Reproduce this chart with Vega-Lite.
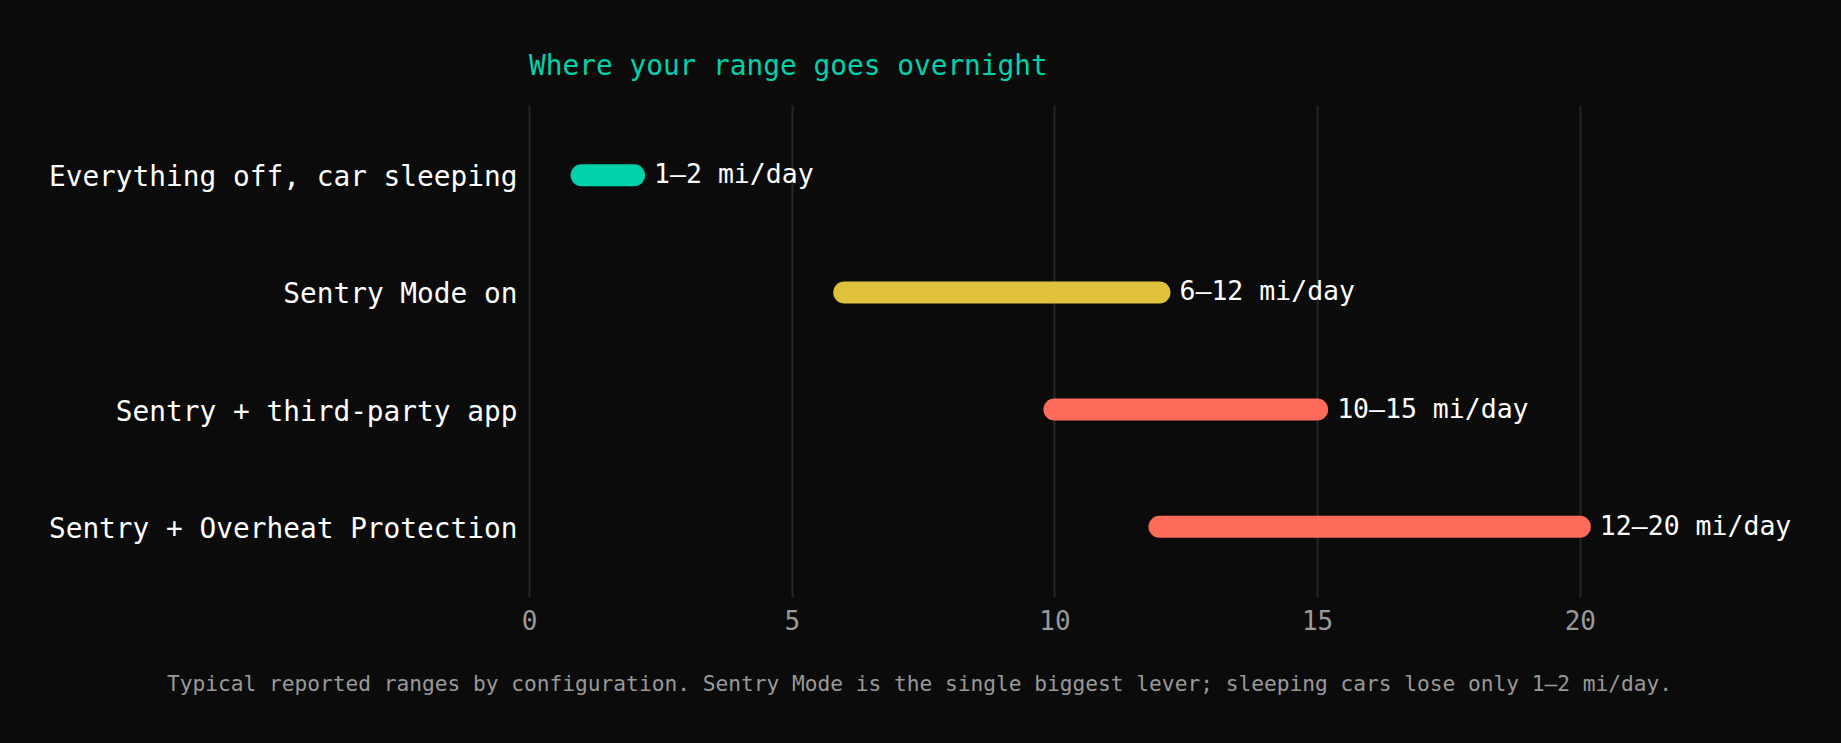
{
  "$schema": "https://vega.github.io/schema/vega-lite/v6.json",
  "autosize": {"type": "none"},
  "padding": {"left": 529, "top": 105, "right": 51, "bottom": 146},
  "width": 1261,
  "height": 492,
  "background": "#0b0b0b",
  "title": {
    "text": "Where your range goes overnight",
    "anchor": "start",
    "frame": "group",
    "font": "DejaVu Sans Mono",
    "fontSize": 27.8,
    "fontWeight": "normal",
    "color": "#00d1ab",
    "baseline": "alphabetic",
    "offset": 2.5
  },
  "config": {
    "view": {"stroke": null},
    "font": "DejaVu Sans Mono"
  },
  "data": {
    "values": [
      {"config": "Everything off, car sleeping", "lo": 1, "hi": 2, "label": "1–2 mi/day", "tier": "low"},
      {"config": "Sentry Mode on", "lo": 6, "hi": 12, "label": "6–12 mi/day", "tier": "mid"},
      {"config": "Sentry + third-party app", "lo": 10, "hi": 15, "label": "10–15 mi/day", "tier": "high"},
      {"config": "Sentry + Overheat Protection", "lo": 12, "hi": 20, "label": "12–20 mi/day", "tier": "high"}
    ]
  },
  "encoding": {
    "y": {
      "field": "config",
      "type": "nominal",
      "sort": null,
      "scale": {"type": "point", "padding": 0.6},
      "axis": {
        "title": null,
        "domain": false,
        "ticks": false,
        "grid": false,
        "labelFontSize": 27.8,
        "labelColor": "#ffffff",
        "labelPadding": 12,
        "labelOffset": 2.5,
        "labelLimit": 600
      }
    }
  },
  "layer": [
    {
      "mark": {"type": "rule", "strokeWidth": 22, "strokeCap": "round"},
      "encoding": {
        "x": {
          "field": "lo",
          "type": "quantitative",
          "scale": {"domain": [0, 24], "nice": false},
          "axis": {
            "values": [0, 5, 10, 15, 20],
            "domain": false,
            "ticks": false,
            "grid": true,
            "gridColor": "#262626",
            "gridWidth": 2,
            "labelFlush": false,
            "labelFontSize": 26,
            "labelColor": "#9a9a9a",
            "labelPadding": 11,
            "title": "Typical reported ranges by configuration. Sentry Mode is the single biggest lever; sleeping cars lose only 1–2 mi/day.",
            "titleFontSize": 21.2,
            "titleFontWeight": "normal",
            "titleColor": "#999999",
            "titleX": 390,
            "titleY": 93,
            "titleAlign": "center",
            "titleBaseline": "alphabetic"
          }
        },
        "x2": {"field": "hi"},
        "color": {
          "field": "tier",
          "type": "nominal",
          "scale": {"domain": ["low", "mid", "high"], "range": ["#00d1ab", "#e0c13e", "#ff6b5a"]},
          "legend": null
        }
      }
    },
    {
      "mark": {"type": "text", "align": "left", "baseline": "middle", "dx": 20, "fontSize": 26.5, "color": "#ffffff"},
      "encoding": {
        "x": {"field": "hi", "type": "quantitative"},
        "text": {"field": "label"}
      }
    }
  ]
}
